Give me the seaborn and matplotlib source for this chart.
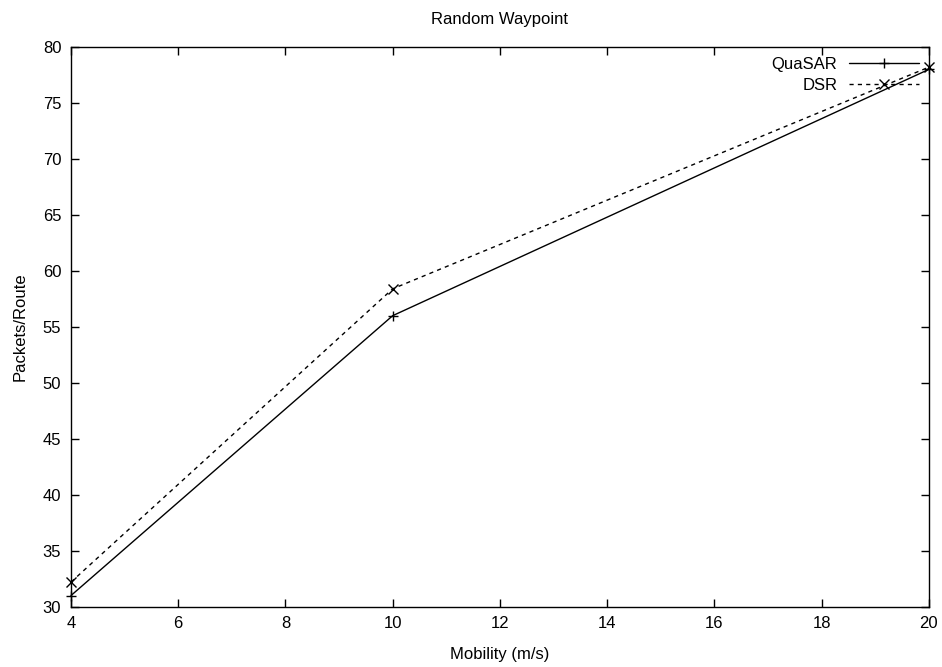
import numpy as np
import pandas as pd
import seaborn as sns
import matplotlib
matplotlib.use("Agg")
import matplotlib.pyplot as plt

mobility = [4, 10, 20]
quasar = [31.0, 56.0, 78.0]
dsr = [32.2, 58.4, 78.2]

df = pd.DataFrame({
    "mobility": mobility * 2,
    "packets": quasar + dsr,
    "protocol": ["QuaSAR"] * 3 + ["DSR"] * 3,
})

sns.set_style("ticks")
plt.rcParams['font.family'] = ['Liberation Sans', 'DejaVu Sans']
plt.rcParams['text.color'] = 'black'
plt.rcParams['axes.labelcolor'] = 'black'
fs = 12

fig = plt.figure(figsize=(9.42, 6.67), dpi=100)
ax = fig.add_axes([0.0754, 0.0904, 0.9106, 0.8391])

sns.lineplot(
    data=df, x="mobility", y="packets",
    hue="protocol", style="protocol",
    palette={"QuaSAR": "black", "DSR": "black"},
    dashes={"QuaSAR": "", "DSR": (3, 3)},
    markers={"QuaSAR": "+", "DSR": "x"},
    markersize=7, markeredgewidth=1, markeredgecolor="black",
    linewidth=1, clip_on=False,
    ax=ax,
)

ax.set_xlim(4, 20)
ax.set_ylim(30, 80)
ax.set_xticks(np.arange(4, 21, 2))
ax.set_yticks(np.arange(30, 81, 5))
ax.tick_params(direction="in", top=True, right=True, length=6, width=1,
               labelsize=fs, colors="black", pad=7)
for s in ax.spines.values():
    s.set_linewidth(1)
    s.set_color("black")
ax.set_xlabel("Mobility (m/s)", fontsize=fs, labelpad=11)
ax.set_ylabel("Packets/Route", fontsize=fs, labelpad=11)
ax.set_title("Random Waypoint", fontsize=fs, pad=16.5)

leg = ax.legend(loc="upper right", frameon=False, markerfirst=False,
                handlelength=4.2, borderaxespad=0.2, labelspacing=0.35,
                handletextpad=0.7, fontsize=fs)
for t in leg.get_texts():
    t.set_color("black")

fig.savefig("out.png", dpi=100)
